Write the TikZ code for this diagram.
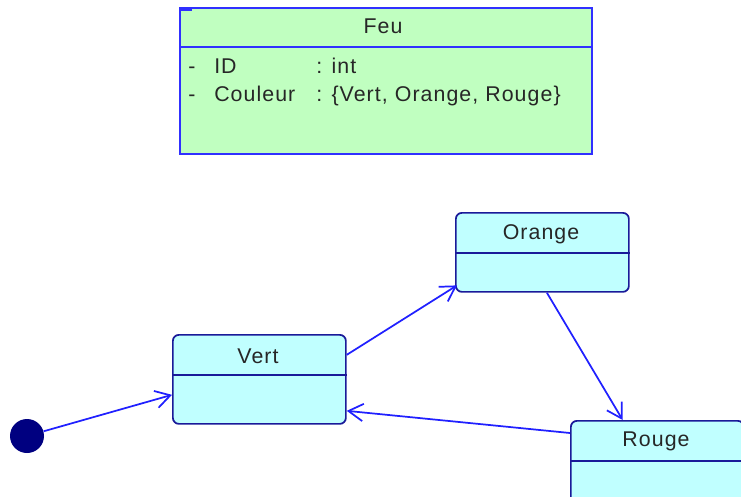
\documentclass[tikz,border=0pt]{standalone}
\usepackage{fontspec}
\setmainfont[LetterSpace=5]{Liberation Sans}
\usetikzlibrary{arrows.meta,positioning}
\definecolor{classfill}{HTML}{C0FFC0}
\definecolor{classline}{HTML}{3030FF}
\definecolor{statefill}{HTML}{C0FFFF}
\definecolor{stateline}{HTML}{1A1A99}
\definecolor{linkblue}{HTML}{2020FF}
\definecolor{initfill}{HTML}{000080}
\tikzset{
  statebox/.style={draw=stateline,fill=statefill,rounded corners=4.5pt,line width=1.3pt,inner sep=0pt,minimum width=129.75pt,anchor=north west},
  txt/.style={font=\fontsize{16}{18}\selectfont,text=black!85,inner sep=0pt},
  trans/.style={draw=linkblue,line width=1.3pt,-{Straight Barb[length=11pt,width=13pt]}},
}
\begin{document}
\begin{tikzpicture}[x=0.75pt,y=-0.75pt]
\clip (0,0) rectangle (741,496);
% class
\node[draw=classline,fill=classfill,line width=1.3pt,inner sep=0pt,minimum width=309pt,minimum height=109.5pt,anchor=north west](feu) at (179,7){};
\draw[classline,line width=1.3pt]([yshift=-30pt]feu.north west)--([yshift=-30pt]feu.north east);
\draw[classline,line width=1.3pt]([xshift=1pt,yshift=-2.5pt]feu.north west)--++(9pt,0);
\node[txt,anchor=base](feuT) at (383,33){Feu};
\node[txt,anchor=base west](dashA) at (188,73){-};
\node[txt,anchor=base west](nameA) at (214,73){ID};
\node[txt,anchor=base west](typeA) at (316,73){: int};
\node[txt,anchor=base west](dashB) at (188,101){-};
\node[txt,anchor=base west](nameB) at (214,101){Couleur};
\node[txt,anchor=base west](typeB) at (316,101){: \{Vert, Orange, Rouge\}};
% states
\node[statebox,minimum height=66.75pt](vert) at (172,334){};
\node[statebox,minimum height=59.25pt](orange) at (455,212){};
\node[statebox,minimum height=66.75pt](rouge) at (570,420){};
\foreach \s in {vert,orange,rouge}
  \draw[stateline,line width=1.3pt]([yshift=-30.75pt]\s.north west)--([yshift=-30.75pt]\s.north east);
\node[txt,anchor=base](vertT) at (258,363){Vert};
\node[txt,anchor=base](orangeT) at (541,239){Orange};
\node[txt,anchor=base](rougeT) at (656,446){Rouge};
\node[circle,fill=initfill,minimum size=25.5pt,inner sep=0pt](init) at (27,436){};
% transitions
\draw[trans](init)--([yshift=-11.6pt]vert.west);
\draw[trans]([yshift=18.4pt]vert.east)--([xshift=1.5pt,yshift=5.5pt]orange.south west);
\draw[trans]([xshift=3.4pt]orange.south)--([xshift=-26pt]rouge.north);
\draw[trans]([yshift=-9.75pt]rouge.north west)--([yshift=-23.6pt]vert.east);
\end{tikzpicture}
\end{document}
